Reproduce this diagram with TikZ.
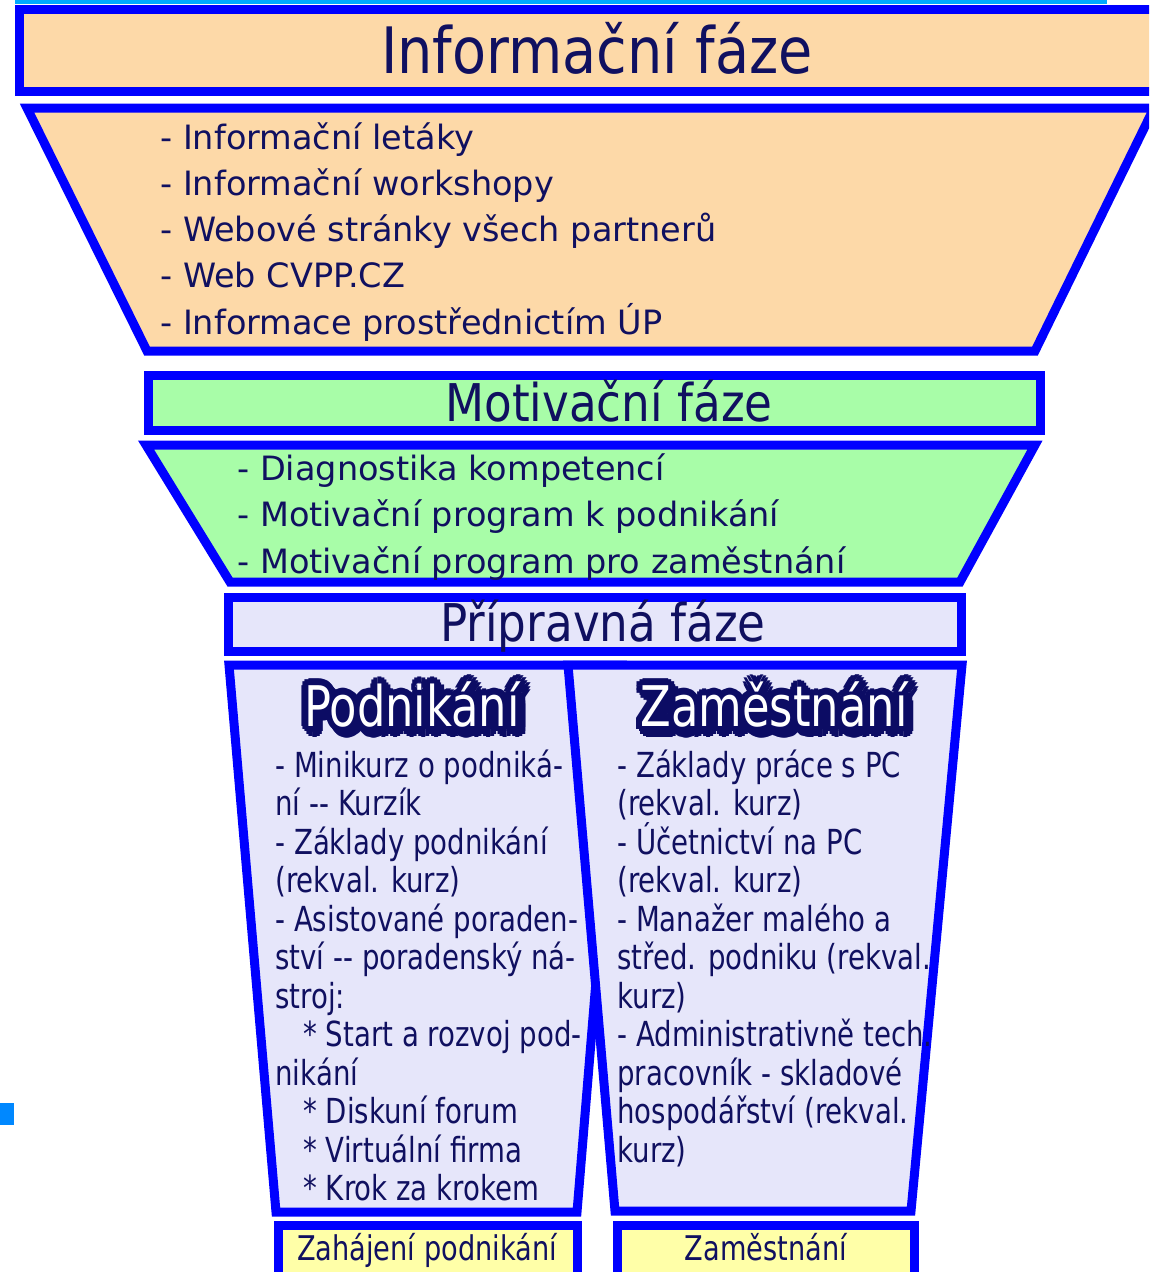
\documentclass[tikz,border=0pt]{standalone}
\usepackage{fontspec}
\setmainfont{DejaVu Sans}
\newfontfamily\titlefont[FakeStretch=0.87]{DejaVu Sans}
\newfontfamily\narrowfont[FakeStretch=0.8]{DejaVu Sans}
\definecolor{funnelblue}{RGB}{0,0,255}
\definecolor{peach}{RGB}{253,217,168}
\definecolor{mint}{RGB}{168,253,168}
\definecolor{lavender}{RGB}{230,230,250}
\definecolor{lemon}{RGB}{255,255,168}
\definecolor{ink}{RGB}{16,16,96}
\definecolor{haloink}{RGB}{12,12,100}
\definecolor{skyline}{RGB}{0,170,255}
\begin{document}
\begin{tikzpicture}[x=1pt, y=-1pt, thick]
\tikzstyle{frame}=[draw=funnelblue, line width=9pt]
\tikzstyle{phase}=[text=ink, anchor=base, font=\titlefont\fontsize{52}{60}\selectfont]
\tikzstyle{items}=[text=ink, align=left, anchor=base west, inner sep=0pt, font=\fontsize{33.5}{46.2}\selectfont]
\tikzstyle{colitems}=[items, font=\narrowfont\fontsize{34.5}{38.5}\selectfont]
\tikzstyle{halo}=[text=haloink, anchor=base, font=\narrowfont\fontsize{56}{60}\selectfont]
\tikzstyle{heading}=[halo, text=white]
\tikzstyle{goal}=[text=ink, anchor=base, font=\narrowfont\fontsize{34}{40}\selectfont]
  \useasboundingbox (0,0) rectangle (1149,1272);
  \clip (0,0) rectangle (1149,1272);
  \fill[skyline] (15,0) rectangle (1107,3.5);
  \fill[skyline!80!blue] (0,1103) rectangle (14,1125);
  % phase bars
  \foreach \place/\far/\shade in {{(19,9)/(1180,91)/peach},
                                  {(148,375)/(1040,430)/mint},
                                  {(228,597)/(961,651)/lavender},
                                  {(278,1225)/(577,1290)/lemon},
                                  {(617,1225)/(914,1290)/lemon}}
    \draw[frame, fill=\shade] \place rectangle \far;
  % funnel parts
  \draw[frame, fill=peach] (27,108) -- (1154,108) -- (1035,351) -- (147,351) -- cycle;
  \draw[frame, fill=mint] (146,445) -- (1035,445) -- (960,582) -- (230,582) -- cycle;
  \draw[frame, fill=lavender] (229,665) -- (622,665) -- (577,1212) -- (276,1212) -- cycle;
  \draw[frame, fill=lavender] (568,665) -- (962,665) -- (911,1211) -- (615,1211) -- cycle;

  \node[phase, font=\titlefont\fontsize{64}{70}\selectfont] (infotitle) at (597,73) {Informační fáze};
  \node[phase] (motivtitle) at (609,421) {Motivační fáze};
  \node[phase] (preptitle) at (603,641) {Přípravná fáze};

  % base west = baseline of the last line
  \node[items] (infolist) at (160,334) {- Informační letáky\\
    - Informační workshopy\\
    - Webové stránky všech partnerů\\
    - Web CVPP.CZ\\
    - Informace prostřednictím ÚP};
  \node[items] (motivlist) at (237,573) {- Diagnostika kompetencí\\
    - Motivační program k podnikání\\
    - Motivační program pro zaměstnání};

  \foreach \name/\word/\x/\y in {podnik/Podnikání/412/726, zamest/Zaměstnání/774/726} {
    \foreach \a in {0,30,...,330} {
      \node[halo] (\name-halo-\a) at ([shift={(\a:6.5)}]\x,\y) {\word};
      \node[halo] (\name-shade-\a) at ([shift={(\a:6.5)}, shift={(4,5)}]\x,\y) {\word};
    }
    \node[heading] (\name) at (\x,\y) {\word};
  }

  \node[colitems] (podlist) at (275,1200.5) {- Minikurz o podniká-\\
    ní -{}- Kurzík\\
    - Základy podnikání\\
    (rekval. kurz)\\
    - Asistované poraden-\\
    ství -{}- poradenský ná-\\
    stroj:\\
    \hspace*{28pt}* Start a rozvoj pod-\\
    nikání\\
    \hspace*{28pt}* Diskuní forum\\
    \hspace*{28pt}* Virtuální firma\\
    \hspace*{28pt}* Krok za krokem};
  \node[colitems] (zamlist) at (617,1162) {- Základy práce s PC\\
    (rekval. kurz)\\
    - Účetnictví na PC\\
    (rekval. kurz)\\
    - Manažer malého a\\
    střed. podniku (rekval.\\
    kurz)\\
    - Administrativně tech.\\
    pracovník - skladové\\
    hospodářství (rekval.\\
    kurz)};

  \node[goal] (startbiz) at (427,1260) {Zahájení podnikání};
  \node[goal] (job) at (766,1260) {Zaměstnání};
\end{tikzpicture}
\end{document}
